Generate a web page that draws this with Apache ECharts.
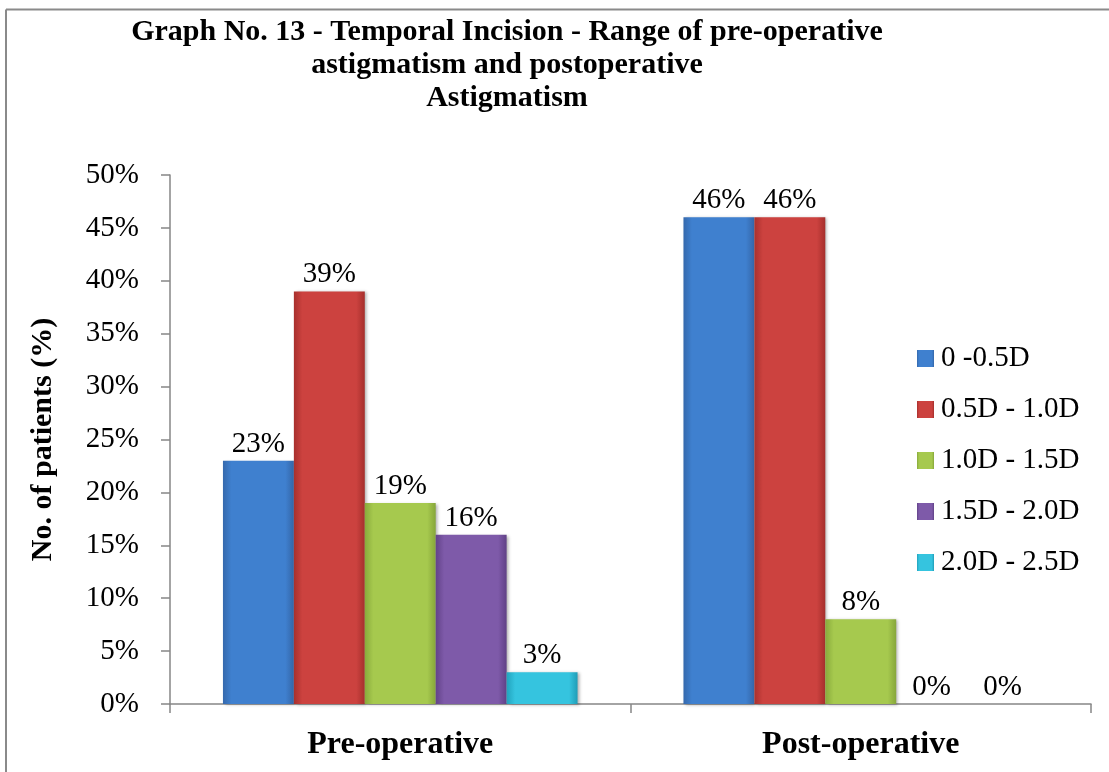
<!DOCTYPE html>
<html>
<head>
<meta charset="utf-8">
<script src="https://cdn.jsdelivr.net/npm/echarts@6/dist/echarts.min.js"></script>
<style>
html,body{margin:0;padding:0;background:#fff;}
#chart{width:1109px;height:772px;}
</style>
</head>
<body>
<div id="chart"></div>
<script>
const categories = ['Pre-operative', 'Post-operative'];
const seriesNames = ['0 -0.5D', '0.5D - 1.0D', '1.0D - 1.5D', '1.5D - 2.0D', '2.0D - 2.5D'];
const range0to05 = [23, 46];
const range05to10 = [39, 46];
const range10to15 = [19, 8];
const range15to20 = [16, 0];
const range20to25 = [3, 0];
const yTicks = [0, 5, 10, 15, 20, 25, 30, 35, 40, 45, 50];

const FONT = "'Liberation Serif', 'Times New Roman', serif";
const palette = [
  ['#3569ad', '#3f80cf', '#3466a8'],
  ['#a8302d', '#cc423f', '#a52f2c'],
  ['#88aa3c', '#a6c94e', '#86a63a'],
  ['#634389', '#7e5aa9', '#604186'],
  ['#22a3bd', '#35c4df', '#1f9db7']
];
function grad(c) {
  return new echarts.graphic.LinearGradient(0, 0, 1, 0, [
    {offset: 0, color: c[0]},
    {offset: 0.12, color: c[1]},
    {offset: 0.88, color: c[1]},
    {offset: 1, color: c[2]}
  ]);
}
const dataSets = [range0to05, range05to10, range10to15, range15to20, range20to25];

const chart = echarts.init(document.getElementById('chart'), null, {renderer: 'canvas'});
const series = dataSets.map((d, i) => ({
  name: seriesNames[i],
  type: 'bar',
  data: d,
  barGap: '0%',
  barCategoryGap: '23%',
  itemStyle: {
    color: grad(palette[i]),
    shadowColor: 'rgba(0,0,0,0.3)',
    shadowBlur: 3,
    shadowOffsetX: 2,
    shadowOffsetY: 1
  },
  label: {
    show: true,
    position: 'top',
    distance: 2,
    formatter: '{c}%',
    fontFamily: FONT,
    fontSize: 29,
    color: '#000'
  }
}));

chart.setOption({
  animation: false,
  backgroundColor: '#fff',
  color: palette.map(p => p[1]),
  title: {
    text: 'Graph No. 13 - Temporal Incision - Range of pre-operative\nastigmatism and postoperative\nAstigmatism',
    left: 502,
    top: 11,
    textAlign: 'center',
    textStyle: {
      fontFamily: FONT,
      fontWeight: 'bold',
      fontSize: 30,
      lineHeight: 33,
      color: '#000'
    }
  },
  legend: {
    orient: 'vertical',
    left: 912,
    top: 339,
    itemWidth: 17,
    itemHeight: 17,
    itemGap: 22,
    icon: 'rect',
    textStyle: {
      fontFamily: FONT,
      fontSize: 29,
      lineHeight: 29,
      color: '#000',
      padding: [0, 0, 0, 2]
    },
    data: seriesNames
  },
  grid: {left: 170, right: 18, top: 175, bottom: 68, containLabel: false},
  xAxis: {
    type: 'category',
    data: categories,
    axisLine: {lineStyle: {color: '#868686', width: 1.5}},
    axisTick: {show: true, length: 9, alignWithLabel: false, lineStyle: {color: '#868686', width: 1.5}},
    axisLabel: {
      margin: 25,
      fontFamily: FONT,
      fontWeight: 'bold',
      fontSize: 32,
      color: '#000'
    }
  },
  yAxis: {
    type: 'value',
    min: yTicks[0],
    max: yTicks[yTicks.length - 1],
    interval: 5,
    name: 'No. of patients (%)',
    nameLocation: 'middle',
    nameGap: 112,
    nameTextStyle: {
      fontFamily: FONT,
      fontWeight: 'bold',
      fontSize: 30,
      color: '#000'
    },
    axisLine: {show: true, lineStyle: {color: '#868686', width: 1.5}},
    axisTick: {show: true, length: 9, lineStyle: {color: '#868686', width: 1.5}},
    splitLine: {show: false},
    axisLabel: {
      margin: 31,
      formatter: '{value}%',
      fontFamily: FONT,
      fontSize: 29,
      color: '#000'
    }
  },
  graphic: [
    {type: 'line', shape: {x1: 6, y1: 9.5, x2: 1109, y2: 9.5}, style: {stroke: '#8a8a8a', lineWidth: 2}},
    {type: 'line', shape: {x1: 6, y1: 9.5, x2: 6, y2: 772}, style: {stroke: '#8a8a8a', lineWidth: 2}}
  ],
  series: series
});
</script>
</body>
</html>
